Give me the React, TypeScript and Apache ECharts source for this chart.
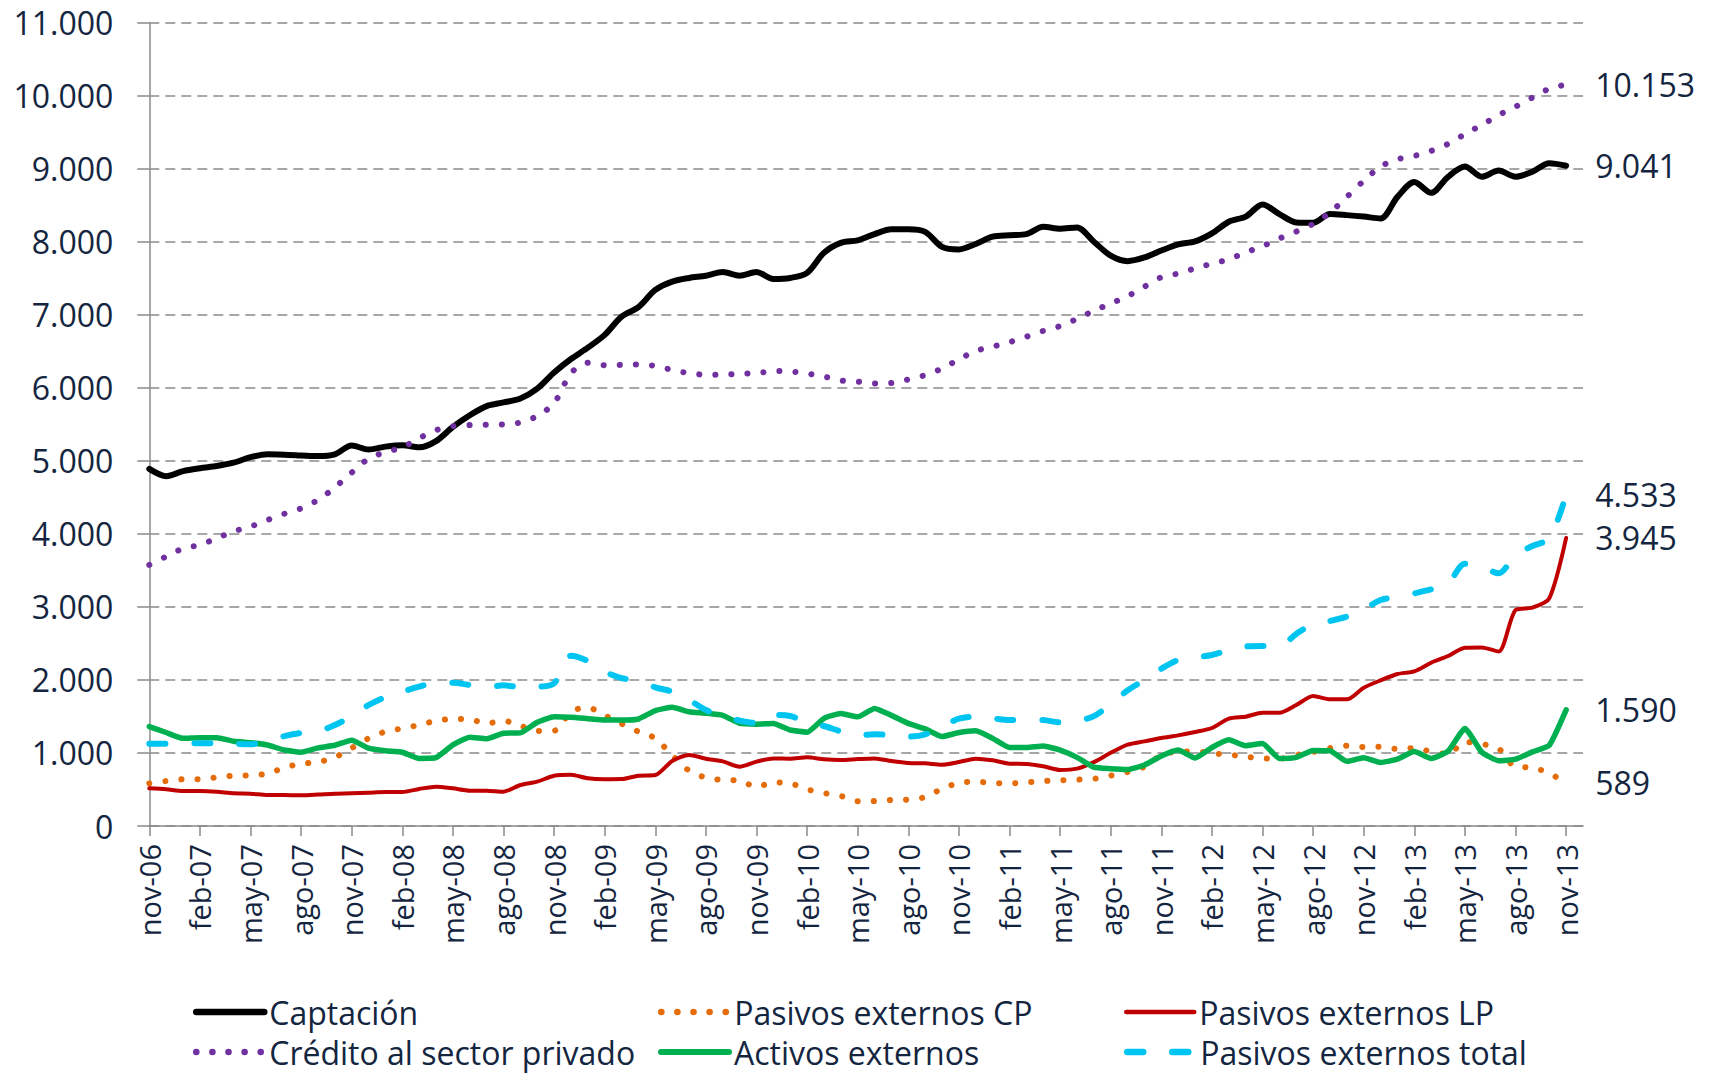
import React, { useEffect, useRef } from 'react';
import * as echarts from 'echarts';

const categories = [
  'nov-06', 'dic-06',
  'ene-07', 'feb-07', 'mar-07', 'abr-07', 'may-07', 'jun-07', 'jul-07', 'ago-07', 'sep-07', 'oct-07', 'nov-07', 'dic-07',
  'ene-08', 'feb-08', 'mar-08', 'abr-08', 'may-08', 'jun-08', 'jul-08', 'ago-08', 'sep-08', 'oct-08', 'nov-08', 'dic-08',
  'ene-09', 'feb-09', 'mar-09', 'abr-09', 'may-09', 'jun-09', 'jul-09', 'ago-09', 'sep-09', 'oct-09', 'nov-09', 'dic-09',
  'ene-10', 'feb-10', 'mar-10', 'abr-10', 'may-10', 'jun-10', 'jul-10', 'ago-10', 'sep-10', 'oct-10', 'nov-10', 'dic-10',
  'ene-11', 'feb-11', 'mar-11', 'abr-11', 'may-11', 'jun-11', 'jul-11', 'ago-11', 'sep-11', 'oct-11', 'nov-11', 'dic-11',
  'ene-12', 'feb-12', 'mar-12', 'abr-12', 'may-12', 'jun-12', 'jul-12', 'ago-12', 'sep-12', 'oct-12', 'nov-12', 'dic-12',
  'ene-13', 'feb-13', 'mar-13', 'abr-13', 'may-13', 'jun-13', 'jul-13', 'ago-13', 'sep-13', 'oct-13', 'nov-13', 'dic-13',
];

const captacion = [
  4890, 4790, 4860, 4900, 4930, 4975, 5050, 5090, 5085, 5075,
  5065, 5090, 5210, 5155, 5195, 5215, 5185, 5270, 5465, 5625,
  5750, 5800, 5855, 5990, 6210, 6395, 6550, 6725, 6975, 7105,
  7340, 7455, 7505, 7535, 7585, 7535, 7585, 7490, 7505, 7575,
  7850, 7985, 8020, 8105, 8170, 8170, 8135, 7930, 7895, 7970,
  8070, 8090, 8105, 8205, 8180, 8195, 8000, 7810, 7735, 7785,
  7880, 7965, 8005, 8115, 8275, 8345, 8510, 8380, 8265, 8260,
  8380, 8365, 8345, 8320, 8615, 8820, 8670, 8890, 9030, 8890,
  8975, 8890, 8960, 9075, 9041,
];

const credito = [
  3575, 3690, 3800, 3850, 3940, 4035, 4100, 4190, 4275, 4350,
  4465, 4635, 4840, 5030, 5120, 5185, 5310, 5420, 5475, 5490,
  5495, 5500, 5525, 5615, 5790, 6200, 6345, 6310, 6315, 6320,
  6300, 6245, 6200, 6180, 6180, 6195, 6200, 6230, 6225, 6195,
  6155, 6100, 6085, 6060, 6065, 6115, 6175, 6265, 6390, 6505,
  6565, 6625, 6700, 6780, 6845, 6945, 7055, 7155, 7255, 7385,
  7515, 7565, 7635, 7700, 7760, 7855, 7940, 8045, 8140, 8245,
  8400, 8615, 8835, 9030, 9130, 9175, 9245, 9340, 9475, 9600,
  9735, 9850, 9975, 10095, 10153,
];

const pasivosCP = [
  584, 616, 639, 639, 666, 689, 694, 717, 799, 853,
  876, 940, 1068, 1200, 1292, 1337, 1383, 1442, 1465, 1460,
  1405, 1440, 1374, 1301, 1305, 1565, 1620, 1515, 1400, 1292,
  1200, 968, 758, 662, 630, 621, 535, 598, 584, 502,
  452, 411, 338, 342, 356, 361, 397, 511, 589, 607,
  589, 584, 598, 616, 625, 634, 646, 690, 739, 812,
  968, 1018, 1022, 995, 977, 949, 926, 922, 972, 1013,
  1068, 1100, 1082, 1086, 1054, 1068, 1018, 986, 1150, 1123,
  1059, 812, 800, 721, 589,
];

const pasivosLP = [
  516, 502, 480, 480, 470, 447, 443, 425, 424, 420,
  430, 443, 447, 456, 466, 466, 507, 539, 516, 484,
  484, 470, 561, 607, 689, 703, 653, 640, 642, 689,
  698, 890, 972, 922, 885, 812, 881, 926, 922, 940,
  913, 904, 917, 926, 890, 863, 858, 840, 876, 922,
  899, 853, 849, 817, 767, 785, 875, 1002, 1114, 1159,
  1205, 1241, 1287, 1342, 1470, 1497, 1552, 1552, 1657, 1780,
  1734, 1734, 1894, 1994, 2081, 2118, 2236, 2328, 2442, 2446,
  2390, 2957, 2989, 3117, 3945,
];

const activos = [
  1360, 1280, 1200, 1210, 1210, 1160, 1140, 1110, 1040, 1010,
  1070, 1105, 1175, 1065, 1030, 1010, 925, 935, 1110, 1215,
  1195, 1270, 1275, 1420, 1495, 1490, 1470, 1450, 1450, 1465,
  1580, 1625, 1565, 1545, 1515, 1405, 1395, 1405, 1315, 1285,
  1475, 1540, 1495, 1610, 1515, 1405, 1330, 1225, 1280, 1305,
  1200, 1075, 1075, 1095, 1040, 940, 805, 785, 775, 835,
  960, 1040, 930, 1075, 1180, 1100, 1130, 925, 940, 1035,
  1030, 885, 935, 870, 915, 1020, 925, 1025, 1335, 1010,
  895, 915, 1015, 1105, 1590,
];

const pasivosTotal = [
  1125, 1125, 1130, 1132, 1132, 1127, 1118, 1168, 1230, 1273,
  1296, 1383, 1506, 1657, 1766, 1840, 1908, 1963, 1963, 1931,
  1900, 1926, 1903, 1908, 1953, 2330, 2260, 2113, 2025, 1990,
  1899, 1839, 1725, 1588, 1506, 1443, 1410, 1520, 1506, 1415,
  1369, 1296, 1246, 1255, 1246, 1223, 1255, 1360, 1470, 1497,
  1474, 1451, 1456, 1451, 1419, 1438, 1505, 1670, 1857, 1999,
  2154, 2273, 2309, 2341, 2410, 2460, 2465, 2465, 2630, 2767,
  2808, 2867, 2966, 3094, 3140, 3185, 3240, 3322, 3590, 3550,
  3460, 3711, 3834, 3939, 4533,
];

const TEXT = '#14263F';
const FONT = "'Open Sans', 'Noto Sans', sans-serif";
const GRID_GRAY = '#8a8a8a';

const fmt = (v: number) => String(Math.round(v)).replace(/\B(?=(\d{3})+(?!\d))/g, '.');

const DOTS = [0.1, 16];
const DASHES = [16, 29];

type SeriesDef = {
  name: string;
  data: number[];
  color: string;
  width: number;
  dash: any;
  smooth: number;
};

const seriesDefs: SeriesDef[] = [
  { name: 'Captación', data: captacion, color: '#000000', width: 6, dash: 'solid', smooth: 0.3 },
  { name: 'Pasivos externos CP', data: pasivosCP, color: '#E46C0A', width: 6, dash: DOTS, smooth: 0.3 },
  { name: 'Pasivos externos LP', data: pasivosLP, color: '#C00000', width: 4, dash: 'solid', smooth: 0.25 },
  { name: 'Crédito al sector privado', data: credito, color: '#7030A0', width: 6, dash: DOTS, smooth: 0.3 },
  { name: 'Activos externos', data: activos, color: '#00B050', width: 5.5, dash: 'solid', smooth: 0.15 },
  { name: 'Pasivos externos total', data: pasivosTotal, color: '#00C5F0', width: 6, dash: DASHES, smooth: 0.3 },
];

const legendPos: Record<string, [number, number]> = {
  'Captación': [193, 996],
  'Pasivos externos CP': [658, 996],
  'Pasivos externos LP': [1124, 996],
  'Crédito al sector privado': [193, 1036],
  'Activos externos': [658, 1036],
  'Pasivos externos total': [1124, 1036],
};

const showEvery3 = (index: number) => index % 3 === 0 && index <= 84;

export default function App() {
  const ref = useRef<HTMLDivElement>(null);

  useEffect(() => {
    if (!ref.current) return;
    const chart = echarts.init(ref.current, null, { renderer: 'svg' });

    const series = seriesDefs.map((s) => ({
      name: s.name,
      type: 'line',
      data: s.data,
      symbol: 'none',
      smooth: s.smooth,
      lineStyle: { color: s.color, width: s.width, type: s.dash, cap: 'round', join: 'round' },
      itemStyle: { color: s.color },
      emphasis: { disabled: true },
      endLabel: {
        show: true,
        formatter: (p: any) => fmt(Array.isArray(p.value) ? p.value[1] : p.value),
        color: TEXT,
        fontSize: 32,
        fontFamily: FONT,
        distance: 29,
      },
    }));

    const legends = seriesDefs.map((s) => ({
      data: [s.name],
      left: legendPos[s.name][0],
      top: legendPos[s.name][1],
      padding: 0,
      itemWidth: 68,
      itemHeight: 30,
      selectedMode: false,
      textStyle: { color: TEXT, fontSize: 32, fontFamily: FONT, lineHeight: 30 },
      itemStyle: { color: 'rgba(0,0,0,0)', borderWidth: 0, borderColor: 'rgba(0,0,0,0)' },
      lineStyle: { width: s.width + 0.5, type: s.dash, cap: 'round', color: s.color },
    }));

    chart.setOption({
      animation: false,
      backgroundColor: '#ffffff',
      textStyle: { fontFamily: FONT },
      grid: {
        left: 149.3,
        right: 135,
        top: 22.7,
        bottom: 248,
        containLabel: false,
        outerBoundsMode: 'none',
      },
      legend: legends,
      xAxis: {
        type: 'category',
        data: categories,
        boundaryGap: false,
        axisLine: { show: true, lineStyle: { color: GRID_GRAY, width: 1.5 } },
        axisTick: { show: true, interval: showEvery3, length: 10, lineStyle: { color: GRID_GRAY, width: 1.5 } },
        axisLabel: {
          interval: showEvery3,
          rotate: 90,
          margin: 18,
          color: TEXT,
          fontSize: 29,
          fontFamily: FONT,
        },
        splitLine: { show: false },
      },
      yAxis: {
        type: 'value',
        min: 0,
        max: 11000,
        interval: 1000,
        axisLine: { show: true, lineStyle: { color: GRID_GRAY, width: 1.5 } },
        axisTick: { show: true, length: 12, lineStyle: { color: GRID_GRAY, width: 1.5 } },
        axisLabel: {
          margin: 36,
          color: TEXT,
          fontSize: 32,
          fontFamily: FONT,
          formatter: (v: number) => fmt(v),
        },
        splitLine: { show: true, lineStyle: { color: GRID_GRAY, width: 1.5, type: [10, 6] } },
      },
      series,
    });

    return () => chart.dispose();
  }, []);

  return (
    <div
      ref={ref}
      style={{ position: 'absolute', left: 0, top: 0, width: 1718, height: 1074, background: '#ffffff' }}
    />
  );
}
